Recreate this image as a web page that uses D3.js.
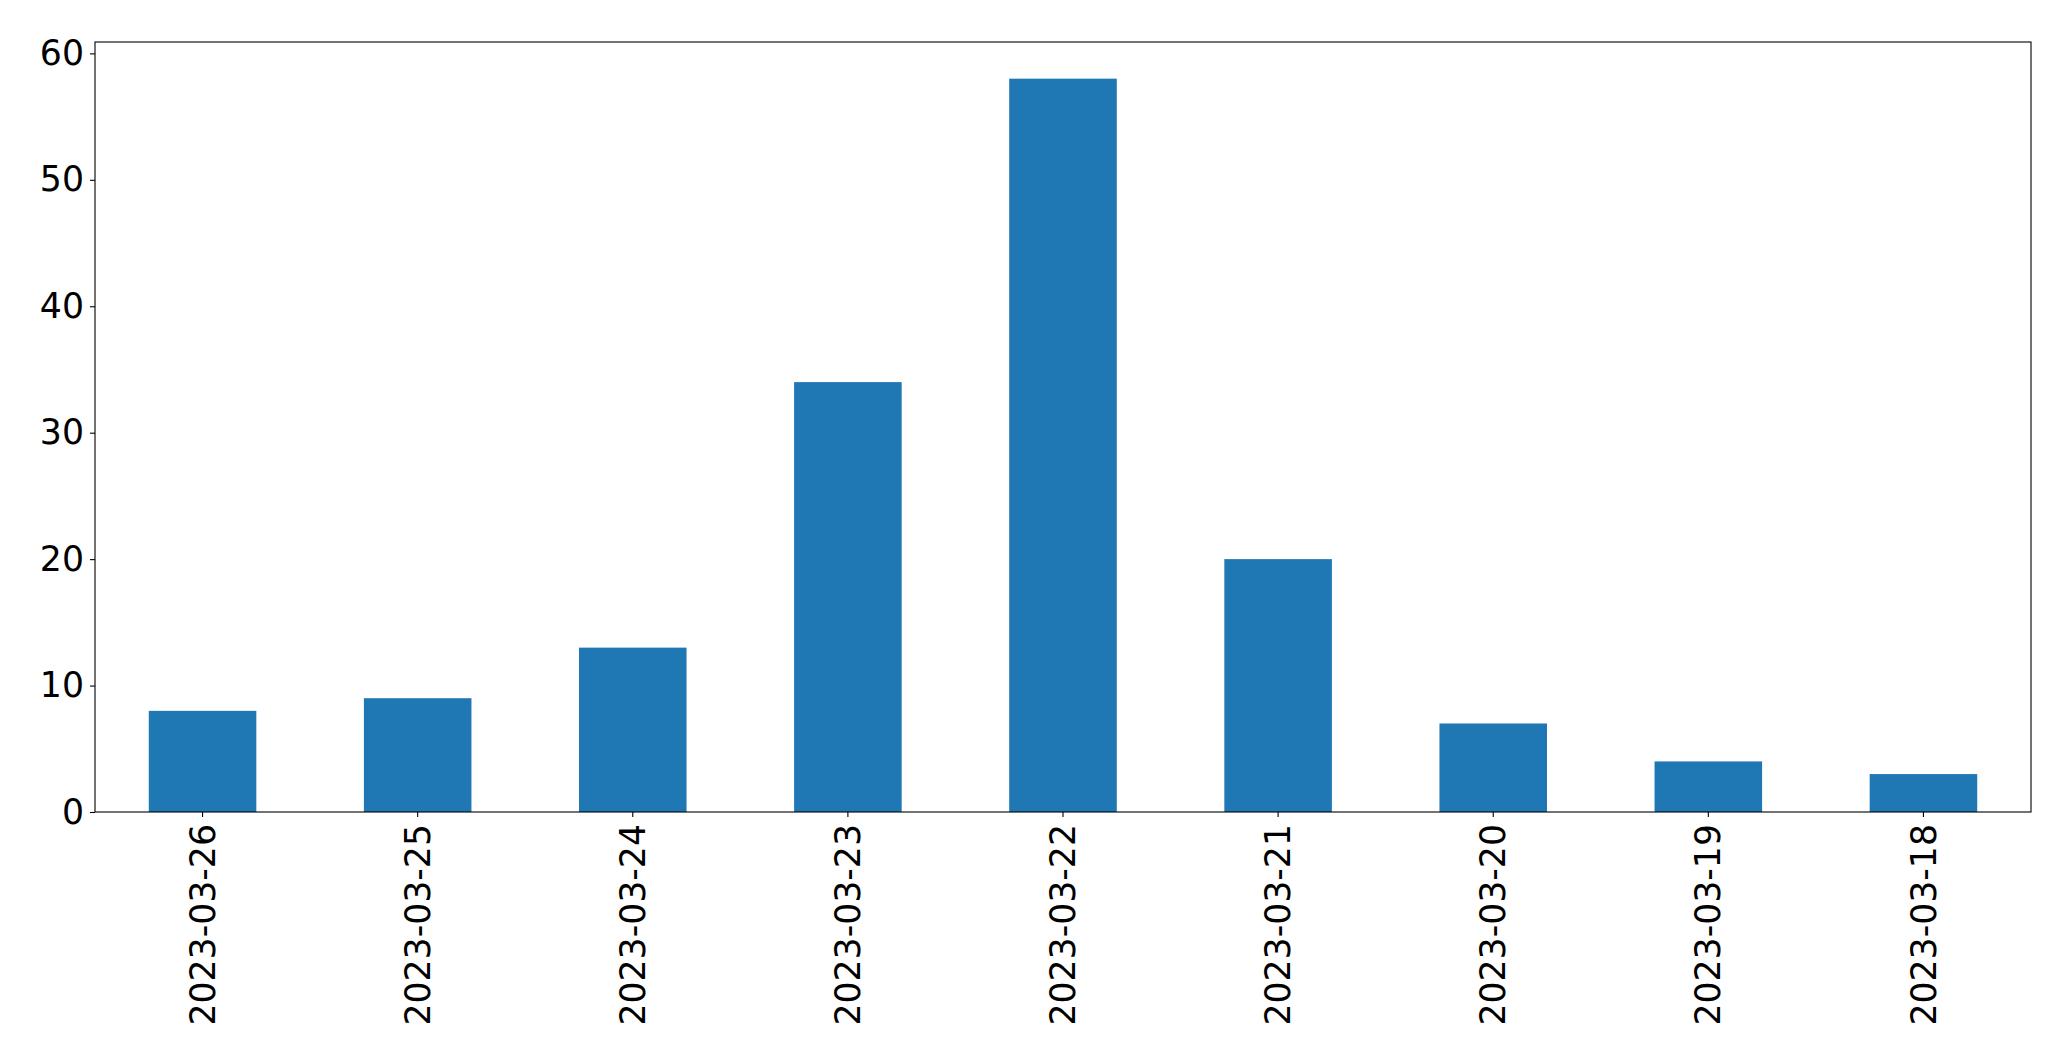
<!DOCTYPE html>
<html>
<head>
<meta charset="utf-8">
<script src="https://cdn.jsdelivr.net/npm/d3@7"></script>
<style>
  html, body { margin: 0; padding: 0; background: #fff; }
  svg { display: block; }
  text { font-family: "DejaVu Sans", sans-serif; fill: #000; }
</style>
</head>
<body>
<svg id="chart" width="2071" height="1064"></svg>
<script>
const categories = ["2023-03-26","2023-03-25","2023-03-24","2023-03-23","2023-03-22","2023-03-21","2023-03-20","2023-03-19","2023-03-18"];
const values = [8, 9, 13, 34, 58, 20, 7, 4, 3];
const yTicks = [0, 10, 20, 30, 40, 50, 60];

const W = 2071, H = 1064;
const margin = { left: 95, right: 40, top: 42, bottom: 252 };
const x0 = margin.left, x1 = W - margin.right;
const y0 = H - margin.bottom, y1 = margin.top;
const fontSize = 34.7;

const svg = d3.select("#chart");

const x = d3.scaleBand().domain(categories).range([x0, x1])
  .paddingInner(0.5).paddingOuter(0.25);
const yMax = d3.max(values) * 1.05;
const y = d3.scaleLinear().domain([0, yMax]).range([y0, y1]);

// bars
svg.append("g").selectAll("rect").data(categories).join("rect")
  .attr("x", d => x(d))
  .attr("width", x.bandwidth())
  .attr("y", (d, i) => y(values[i]))
  .attr("height", (d, i) => y(0) - y(values[i]))
  .attr("fill", "#1f77b4");

// y axis
const yAxis = d3.axisLeft(y).tickValues(yTicks).tickFormat(d3.format("d"))
  .tickSize(5).tickPadding(6);
const gy = svg.append("g").attr("transform", `translate(${x0},0)`).call(yAxis);
gy.select(".domain").remove();
gy.selectAll(".tick line").attr("stroke", "#000").attr("stroke-width", 1.1);
gy.selectAll(".tick text").attr("font-size", fontSize).attr("font-family", "DejaVu Sans").attr("fill", "#000");

// x axis
const xAxis = d3.axisBottom(x).tickSize(5).tickPadding(0);
const gx = svg.append("g").attr("transform", `translate(0,${y0})`).call(xAxis);
gx.select(".domain").remove();
gx.selectAll(".tick line").attr("stroke", "#000").attr("stroke-width", 1.1);
gx.selectAll(".tick text")
  .attr("font-size", fontSize).attr("font-family", "DejaVu Sans").attr("fill", "#000")
  .attr("transform", "rotate(-90)")
  .attr("x", -12).attr("y", 0).attr("dy", "0.35em")
  .attr("text-anchor", "end");

// frame
svg.append("rect")
  .attr("x", x0).attr("y", y1)
  .attr("width", x1 - x0).attr("height", y0 - y1)
  .attr("fill", "none").attr("stroke", "#000").attr("stroke-width", 1.1);
</script>
</body>
</html>
